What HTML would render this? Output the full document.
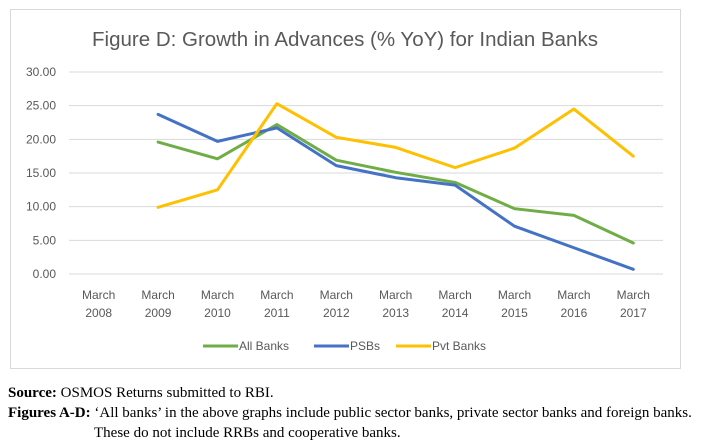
<!DOCTYPE html>
<html><head><meta charset="utf-8"><style>
body{margin:0;background:#fff;width:701px;height:445px;overflow:hidden;position:relative}
.note{position:absolute;left:8px;font-family:"Liberation Serif",serif;font-size:15px;color:#000;white-space:nowrap}
</style></head><body>
<svg width="701" height="445" style="position:absolute;left:0;top:0">
<rect x="10.5" y="9.5" width="670" height="359" fill="#fff" stroke="#d9d9d9"/>
<text x="345" y="46" text-anchor="middle" font-family="Liberation Sans, sans-serif" font-size="20.5" fill="#595959">Figure D: Growth in Advances (% YoY) for Indian Banks</text>
<g id="grid"></g><g id="series"></g><g id="xl"></g>
<g font-family="Liberation Sans, sans-serif" font-size="12" fill="#595959">
<line x1="203" y1="346" x2="238" y2="346" stroke="#70ad47" stroke-width="3"/>
<text x="239" y="350">All Banks</text>
<line x1="314" y1="346" x2="349" y2="346" stroke="#4472c4" stroke-width="3"/>
<text x="350" y="350">PSBs</text>
<line x1="396" y1="346" x2="431" y2="346" stroke="#ffc000" stroke-width="3"/>
<text x="432" y="350">Pvt Banks</text>
</g>
</svg>
<div class="note" style="top:385px"><b>Source:</b> OSMOS Returns submitted to RBI.</div>
<div class="note" style="top:405px"><b>Figures A-D:</b> ‘All banks’ in the above graphs include public sector banks, private sector banks and foreign banks.</div>
<div class="note" style="top:425px;left:94px">These do not include RRBs and cooperative banks.</div>
<script>
const categories=["2008","2009","2010","2011","2012","2013","2014","2015","2016","2017"];
const allBanks=[null,19.6,17.1,22.2,16.9,15.1,13.6,9.7,8.7,4.6];
const psbs=[null,23.7,19.7,21.7,16.1,14.3,13.2,7.1,3.9,0.7];
const pvtBanks=[null,9.9,12.5,25.3,20.3,18.8,15.8,18.7,24.5,17.5];
const yTicks=[0,5,10,15,20,25,30];
const NS="http://www.w3.org/2000/svg";
const x0=69,x1=663,y0=274,y1=72;
const xs=i=>x0+(x1-x0)/categories.length*(i+0.5);
const ys=v=>y0-(v/30)*(y0-y1);
const grid=document.getElementById('grid');
yTicks.forEach(t=>{
 const l=document.createElementNS(NS,'line');
 l.setAttribute('x1',x0);l.setAttribute('x2',x1);l.setAttribute('y1',ys(t));l.setAttribute('y2',ys(t));
 l.setAttribute('stroke','#d9d9d9');
 
 
 grid.appendChild(l);
 const tx=document.createElementNS(NS,'text');
 tx.setAttribute('x',56);tx.setAttribute('y',ys(t)+4);tx.setAttribute('text-anchor','end');
 tx.setAttribute('font-family','Liberation Sans, sans-serif');tx.setAttribute('font-size','12');tx.setAttribute('fill','#595959');
 tx.textContent=t.toFixed(2);
 
 
 grid.appendChild(tx);
});
const xl=document.getElementById('xl');
categories.forEach((c,i)=>{
 const tx=document.createElementNS(NS,'text');
 tx.setAttribute('text-anchor','middle');tx.setAttribute('font-family','Liberation Sans, sans-serif');tx.setAttribute('font-size','12');tx.setAttribute('fill','#595959');
 tx.innerHTML='<tspan x="'+xs(i)+'" y="299">March</tspan><tspan x="'+xs(i)+'" y="317">'+c+'</tspan>';
 
 
 xl.appendChild(tx);
});
const sg=document.getElementById('series');
[[allBanks,'#70ad47','line-all-banks'],[psbs,'#4472c4','line-psbs'],[pvtBanks,'#ffc000','line-pvt-banks']].forEach(([d,col,name])=>{
 const pts=[];d.forEach((v,i)=>{if(v!==null)pts.push(xs(i)+','+ys(v));});
 const p=document.createElementNS(NS,'polyline');
 p.setAttribute('points',pts.join(' '));p.setAttribute('fill','none');p.setAttribute('stroke',col);
 p.setAttribute('stroke-width','3');p.setAttribute('stroke-linejoin','round');p.setAttribute('stroke-linecap','round');
 
 
 sg.appendChild(p);
});
</script>
</body></html>
